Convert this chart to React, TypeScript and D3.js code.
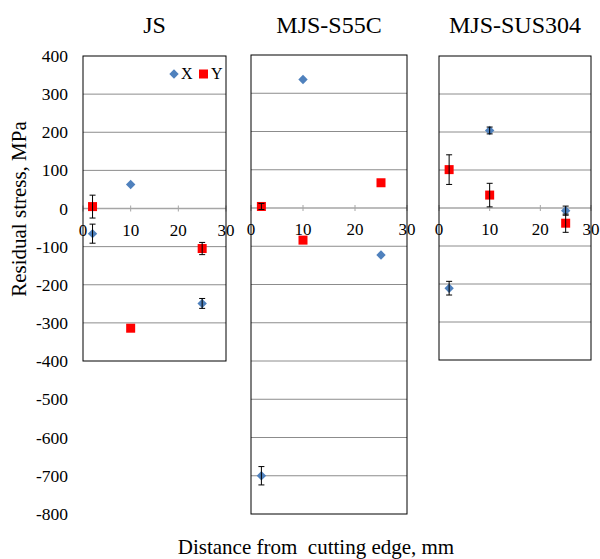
import React from "react";
import * as d3 from "d3";

const panelTitles = ["JS", "MJS-S55C", "MJS-SUS304"];
const xTicks = [0, 10, 20, 30];
// per-panel distance values (mm)
const distances = [2, 10, 25];
// X series values and errors per panel
const xValues = [
  [-66, 63, -249],
  [-700, 336, -123],
  [-211, 204, -7],
];
const xErrors = [
  [25, 0, 13],
  [24, 0, 0],
  [18, 9, 12],
];
const yValues = [
  [5, -314, -105],
  [4, -84, 66],
  [101, 34, -40],
];
const yErrors = [
  [30, 0, 16],
  [8, 0, 0],
  [39, 31, 24],
];
const yTicksMain = [400, 300, 200, 100, 0, -100, -200, -300, -400];
const yTicksExtra = [-500, -600, -700, -800];
const legendLabels = ["X", "Y"];

const FONT = "Liberation Serif, Times New Roman, Tinos, DejaVu Serif, serif";
const BLUE = "#4F81BD";
const RED = "#FF0000";

type Panel = { x0: number; x1: number; top: number; bottom: number; ymin: number };
const panels: Panel[] = [
  { x0: 83, x1: 226, top: 56, bottom: 361, ymin: -400 },
  { x0: 251, x1: 407, top: 55, bottom: 514, ymin: -800 },
  { x0: 439, x1: 591, top: 56, bottom: 360, ymin: -400 },
];

function Diamond({ cx, cy, r }: { cx: number; cy: number; r: number }) {
  return <path d={`M${cx},${cy - r}L${cx + r},${cy}L${cx},${cy + r}L${cx - r},${cy}Z`} fill={BLUE} />;
}

function ErrBar({ x, yl, yh }: { x: number; yl: number; yh: number }) {
  if (Math.abs(yl - yh) < 1) return null;
  return (
    <g stroke="#000" strokeWidth={1}>
      <line x1={x} x2={x} y1={yl} y2={yh} />
      <line x1={x - 3} x2={x + 3} y1={yl} y2={yl} />
      <line x1={x - 3} x2={x + 3} y1={yh} y2={yh} />
    </g>
  );
}

const txt = { fontFamily: FONT };

export default function App() {
  return (
    <svg width={600} height={559} style={{ display: "block", position: "absolute", left: 0, top: 0 }}>
      <rect width={600} height={559} fill="#fff" />
      {panels.map((p, i) => {
        const x = d3.scaleLinear().domain([0, 30]).range([p.x0, p.x1]);
        const y = d3.scaleLinear().domain([p.ymin, 400]).range([p.bottom, p.top]);
        const grid = d3.range(p.ymin + 100, 400, 100).filter((v) => v !== 0);
        return (
          <g key={i}>
            <text x={(p.x0 + p.x1) / 2} y={33} textAnchor="middle" style={txt} fontSize={24} fill="#000">
              {panelTitles[i]}
            </text>
            {grid.map((g) => (
              <line key={g} x1={p.x0} x2={p.x1} y1={y(g)} y2={y(g)} stroke="#8c8c8c" strokeWidth={1} />
            ))}
            <line x1={p.x0} x2={p.x1} y1={y(0)} y2={y(0)} stroke="#a6a6a6" strokeWidth={1.5} />
            {xTicks.map((t) => (
              <g key={t}>
                <line x1={x(t)} x2={x(t)} y1={y(0) - 3} y2={y(0) + 3} stroke="#a6a6a6" strokeWidth={1} />
                <text x={x(t)} y={y(0) + 27} textAnchor="middle" style={txt} fontSize={17} fill="#000">
                  {t}
                </text>
              </g>
            ))}
            <rect x={p.x0} y={p.top} width={p.x1 - p.x0} height={p.bottom - p.top} fill="none" stroke="#000" strokeWidth={1} />
            {distances.map((d, j) => (
              <g key={"x" + j}>
                <Diamond cx={x(d)} cy={y(xValues[i][j])} r={4.7} />
                <ErrBar x={x(d)} yl={y(xValues[i][j] - xErrors[i][j])} yh={y(xValues[i][j] + xErrors[i][j])} />
              </g>
            ))}
            {distances.map((d, j) => (
              <g key={"y" + j}>
                <rect x={x(d) - 4.5} y={y(yValues[i][j]) - 4.5} width={9} height={9} fill={RED} />
                <ErrBar x={x(d)} yl={y(yValues[i][j] - yErrors[i][j])} yh={y(yValues[i][j] + yErrors[i][j])} />
              </g>
            ))}
          </g>
        );
      })}
      {(() => {
        const y1 = d3.scaleLinear().domain([-400, 400]).range([panels[0].bottom, panels[0].top]);
        const y2 = d3.scaleLinear().domain([-800, 400]).range([panels[1].bottom, panels[1].top]);
        return (
          <g style={txt} fontSize={17.5} fill="#000" textAnchor="end">
            {yTicksMain.map((t) => (
              <text key={t} x={68} y={y1(t) + 6}>
                {t}
              </text>
            ))}
            {yTicksExtra.map((t) => (
              <text key={t} x={68} y={y2(t) + 6}>
                {t}
              </text>
            ))}
          </g>
        );
      })()}
      <text transform="translate(26,209) rotate(-90)" textAnchor="middle" style={txt} fontSize={21} fill="#000">
        Residual stress, MPa
      </text>
      <text x={316} y={554} textAnchor="middle" style={{ ...txt, whiteSpace: "pre" }} fontSize={21} fill="#000">
        {"Distance from  cutting edge, mm"}
      </text>
      <g style={txt} fontSize={16} fill="#000">
        <Diamond cx={174} cy={74} r={4.7} />
        <text x={181} y={79}>{legendLabels[0]}</text>
        <rect x={199} y={69.5} width={9} height={9} fill={RED} />
        <text x={211} y={79}>{legendLabels[1]}</text>
      </g>
    </svg>
  );
}
